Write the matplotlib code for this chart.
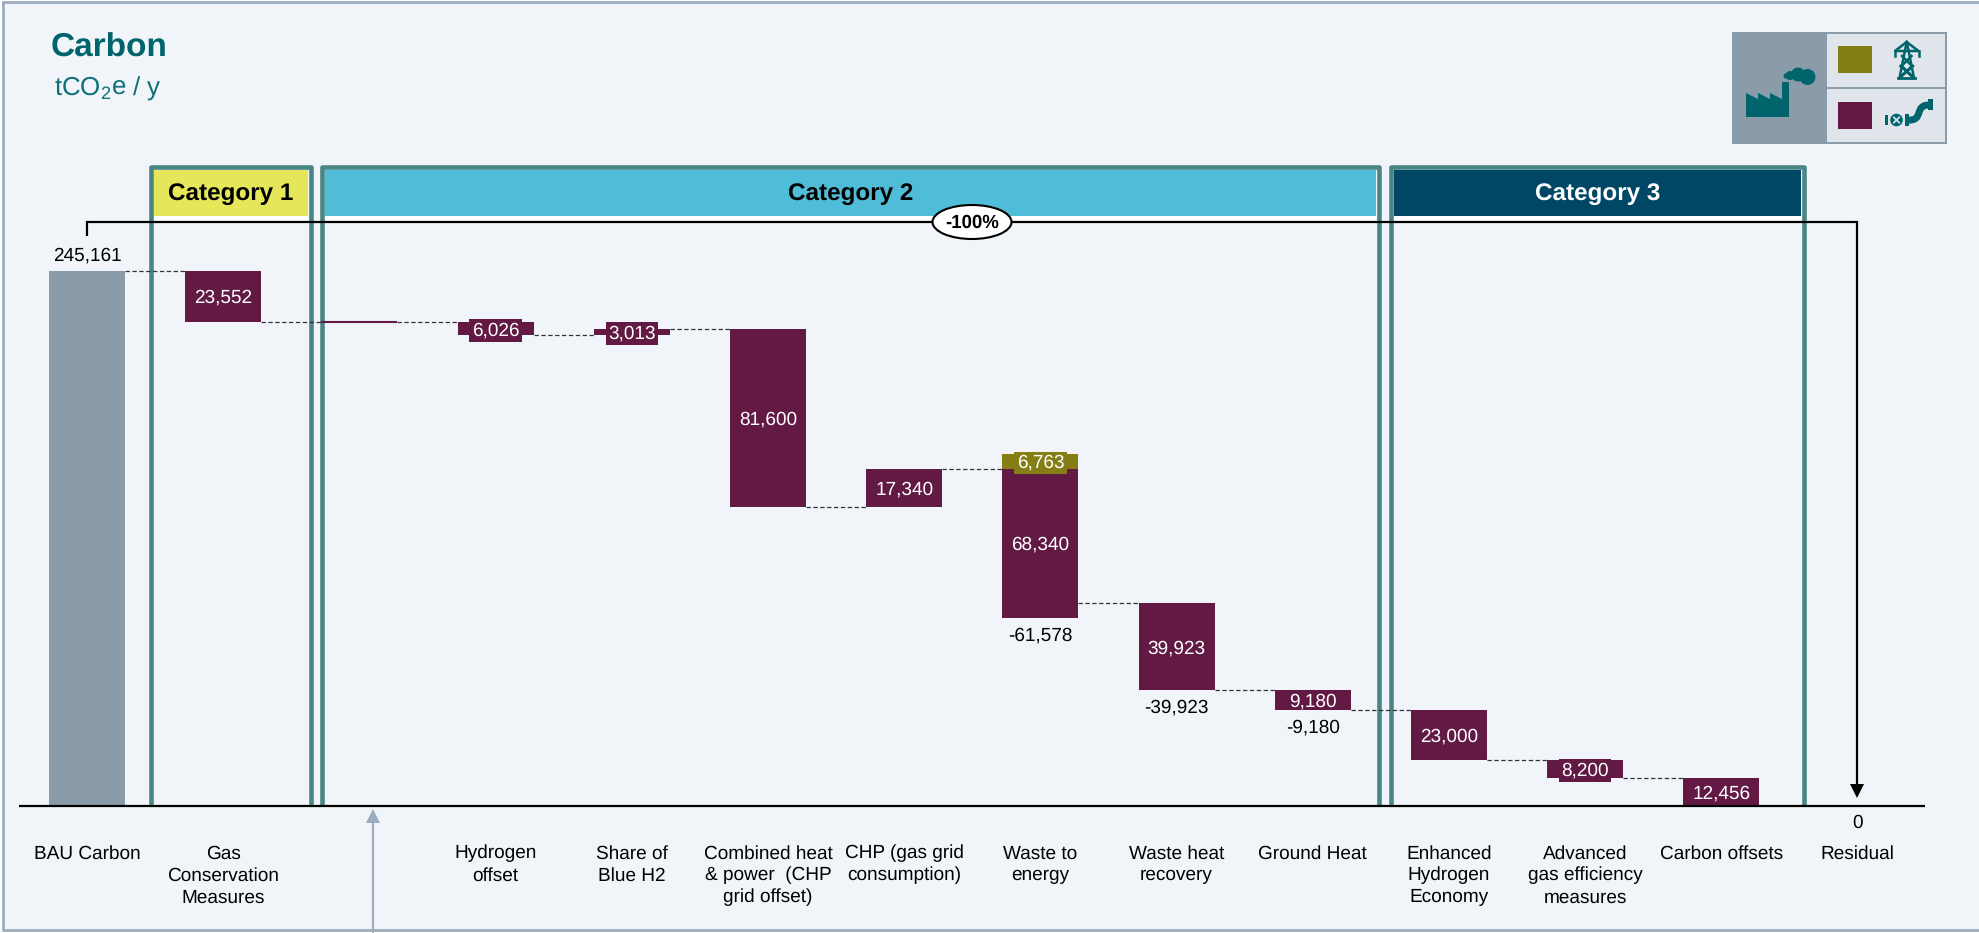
"""Carbon abatement waterfall."""

import matplotlib
matplotlib.use("Agg")
import matplotlib.pyplot as plt
from matplotlib.patches import Rectangle, Polygon, Circle, Ellipse, PathPatch
from matplotlib.path import Path
from matplotlib.lines import Line2D
from matplotlib.transforms import Affine2D

plt.rcParams["font.family"] = ["Liberation Sans", "DejaVu Sans"]
plt.rcParams["mathtext.fontset"] = "custom"
plt.rcParams["mathtext.rm"] = "Liberation Sans"
plt.rcParams["mathtext.default"] = "regular"
plt.rcParams["text.hinting"] = "no_hinting"

# ── Data ──────────────────────────────────────────────────────
labels = [
    "BAU Carbon", "Gas\nConservation\nMeasures", "", "Hydrogen\noffset",
    "Share of\nBlue H2", "Combined heat\n& power  (CHP\ngrid offset)", "CHP (gas grid\nconsumption)",
    "Waste to\nenergy", "Waste heat\nrecovery", "Ground Heat", "Enhanced\nHydrogen\nEconomy",
    "Advanced\ngas efficiency\nmeasures", "Carbon offsets", "Residual",
]
bau_value = 245161
gas_steps = [-23552, 0, -6026, 3013, -81600, 17340, -68340, -39923, -9180, -23000, -8200, -12456]
grid_steps = [0, 0, 0, 0, 0, 0, 6763, 0, 0, 0, 0, 0]
net_labels = {7: "-61,578", 8: "-39,923", 9: "-9,180"}
residual_value = 0
total_change = "-100%"
categories = ["Category 1", "Category 2", "Category 3"]

# ── Colours ───────────────────────────────────────────────────
BG = "#F1F5F9"
FRAME = "#9AAEBF"
GREY = "#8A9BAA"
PURPLE = "#621A45"
OLIVE = "#857E14"
TEAL = "#00646C"
BOX = "#4A8585"
CAT_COLORS = ["#E6E65A", "#50BDD8", "#004766"]
CAT_TEXT = ["black", "black", "white"]
FS = 13.7

fig = plt.figure(figsize=(19.79, 9.33), dpi=100, facecolor="white")
ax = fig.add_axes([0, 0, 1, 1])
ax.axis("off")

# x: category index, y: tCO2e. Scale
PITCH = 136.2
X0 = 87.0
BASE = 805.5
PER_UNIT = 534.5 / bau_value
ax.set_xlim(-X0 / PITCH, (1979 - X0) / PITCH)
ax.set_ylim((BASE - 933) / PER_UNIT, BASE / PER_UNIT)
BAR_W = 76 / PITCH

# pixel coordinates of the image, y down, for the decoration
px = Affine2D().scale(1, -1).translate(0, 933)


def rect(x0, y0, x1, y1, color, z=1, **kw):
    ax.add_patch(Rectangle((x0, y0), x1 - x0, y1 - y0, fc=color, ec="none",
                           transform=px, zorder=z, clip_on=False, **kw))


def line(xs, ys, color="black", lw=1.5, z=6, **kw):
    ax.add_line(Line2D(xs, ys, color=color, lw=lw, transform=px, zorder=z,
                       clip_on=False, **kw))


def bar_label(i, value, text, color=None):
    # white value inside a bar; short bars get a patch behind the text
    box = dict(boxstyle="square,pad=0.13", fc=color, ec="none") if color else None
    ax.annotate(text, (i, value), xytext=(0, -1), textcoords="offset points", ha="center",
                va="center", fontsize=FS, color="white", zorder=6, bbox=box)


# Frame
rect(0, 0, 1979, 933, "white", z=0)
rect(2, 1, 1979, 930, BG, z=0.1)
line([3, 3], [1, 930], FRAME, 2, z=0.2, solid_capstyle="butt")
line([2, 1979], [1.5, 1.5], FRAME, 2, z=0.2, solid_capstyle="butt")
line([2, 1979], [929.5, 929.5], FRAME, 2, z=0.2, solid_capstyle="butt")

# Category boxes
boxes = [(149, 313), (320, 1381), (1389, 1806)]
for (x0, x1), name, col, tcol in zip(boxes, categories, CAT_COLORS, CAT_TEXT):
    rect(x0 + 5, 216, x1 - 5, 222, "white", z=1)
    rect(x0 + 5, 170, x1 - 5, 216, col, z=1)
    ax.add_patch(Polygon([(x0 + 2.25, BASE), (x0 + 2.25, 167.2), (x1 - 2.25, 167.2), (x1 - 2.25, BASE)],
                         closed=False, fill=False, ec=BOX, lw=3.3, joinstyle="round",
                         transform=px, zorder=2, clip_on=False))
    ax.text((x0 + x1) / 2, 194, name, transform=px, ha="center", va="center",
            fontsize=17.5, fontweight="bold", color=tcol, zorder=3)

# Waterfall
ax.bar(0, bau_value, width=BAR_W, color=GREY, zorder=3)
ax.annotate(f"{bau_value:,}", (0, bau_value), xytext=(0, 11), textcoords="offset points",
            ha="center", va="center", fontsize=FS, color="black", zorder=7)

level = bau_value
for i, (gas, grid) in enumerate(zip(gas_steps, grid_steps), start=1):
    # dashed connector from the previous bar
    ax.plot([i - 1 + BAR_W / 2, i - BAR_W / 2], [level, level], color="#333333", lw=0.9,
            ls=(0, (3.5, 2)), zorder=4)
    if gas == 0:
        ax.plot([i - BAR_W / 2, i + BAR_W / 2], [level, level], color=PURPLE, lw=1.5,
                solid_capstyle="butt", zorder=5)
    else:
        ax.bar(i, abs(gas), bottom=min(level, level + gas), width=BAR_W, color=PURPLE, zorder=5)
        bar_label(i, level + gas / 2, f"{abs(gas):,}", PURPLE if abs(gas) < 9000 else None)
    if grid:
        ax.bar(i, grid, bottom=level, width=BAR_W, color=OLIVE, zorder=5)
        bar_label(i, level + grid / 2, f"{grid:,}", OLIVE)
    if i in net_labels:
        ax.annotate(net_labels[i], (i, level + gas), xytext=(0, -12.6), textcoords="offset points",
                    ha="center", va="center", fontsize=FS, color="black", zorder=6)
    level = level + gas + grid

# Axis line and labels
ax.plot([(19 - X0) / PITCH, (1925 - X0) / PITCH], [0, 0], color="black", lw=1.6, zorder=8,
        solid_capstyle="butt")
for i, name in enumerate(labels):
    ax.annotate(name, (i, 0), xytext=(0, -28.2), textcoords="offset points", ha="center", va="top",
                fontsize=FS, linespacing=1.31, color="black", zorder=6)
ax.annotate(f"{residual_value}", (13, 0), xytext=(0, -12.6), textcoords="offset points",
            ha="center", va="center", fontsize=FS, color="black", zorder=6)

# Total bracket with the arrow to the residual
line([87, 87, 1857, 1857], [236, 222, 222, 786], "black", 1.6, solid_joinstyle="miter", solid_capstyle="butt")
ax.add_patch(Polygon([(1850, 784), (1864, 784), (1857, 798)], fc="black", ec="none", transform=px, zorder=6))
ax.add_patch(Ellipse((972, 222), 79, 34, fc="white", ec="black", lw=1.5, transform=px, zorder=7))
ax.text(972, 223, total_change, transform=px, ha="center", va="center", fontsize=13.4,
        fontweight="bold", color="black", zorder=8)

# Grey callout arrow under the axis
line([373, 373], [820, 933], FRAME, 1.5, z=6)
ax.add_patch(Polygon([(366, 823), (380, 823), (373, 809)], fc=FRAME, ec="none", transform=px, zorder=6))

# Title
ax.text(50.5, 56.5, "Carbon", transform=px, fontsize=24, fontweight="bold", color=TEAL, va="baseline")
ax.text(54, 96, r"tCO$_2$e / y", transform=px, fontsize=18.6, color="#0E7078", va="baseline")

# Legend with icons
rect(1732, 32, 1947, 144, GREY, z=1)
rect(1826, 33, 1946, 143, "#DFE5EB", z=1.1)
line([1826, 1826, 1946, 1946, 1826], [33, 143, 143, 33, 33], GREY, 1.4, z=1.2)
line([1826, 1946], [88, 88], GREY, 1.4, z=1.2)
rect(1838, 46, 1872, 73, OLIVE, z=2)
rect(1838, 102, 1872, 129, PURPLE, z=2)

# factory
ax.add_patch(Polygon([(1746, 117), (1789, 117), (1789, 82), (1782, 82), (1782, 99), (1770, 93), (1770, 99),
                      (1758, 93), (1758, 99), (1746, 93)], fc=TEAL, ec="none", transform=px, zorder=3))
for cx, cy, r in [(1807.5, 77, 8), (1798, 74.5, 7), (1790, 75.5, 4.5), (1786, 76, 2.5)]:
    ax.add_patch(Circle((cx, cy), r, fc=TEAL, ec="none", transform=px, zorder=3))

# pylon
py_lw = 1.8
line([1898, 1915], [77.5, 77.5], TEAL, 2, z=3)
line([1899.5, 1906.5], [78, 43], TEAL, py_lw, z=3)
line([1914, 1907], [78, 43], TEAL, py_lw, z=3)
line([1906.7, 1895, 1918.5, 1906.7], [42, 51, 51, 42], TEAL, py_lw, z=3)
line([1895, 1895], [51, 56], TEAL, py_lw, z=3)
line([1918.5, 1918.5], [51, 56], TEAL, py_lw, z=3)
line([1902, 1912, 1900.5, 1913], [56, 66, 77, 66], TEAL, py_lw, z=3)
line([1911.5, 1901.5, 1913, 1900.5], [56, 66, 77, 66], TEAL, py_lw, z=3)

# valve and pipe
ax.add_patch(Circle((1896.5, 120), 6.3, fc=TEAL, ec="none", transform=px, zorder=3))
line([1893.8, 1899.2], [117.3, 122.7], "#DFE5EB", 1.2, z=4)
line([1893.8, 1899.2], [122.7, 117.3], "#DFE5EB", 1.2, z=4)
rect(1885, 115, 1888, 125, TEAL, z=3)
pipe = Path([(1906, 120), (1926, 122), (1912, 104), (1931, 105)],
            [Path.MOVETO, Path.CURVE4, Path.CURVE4, Path.CURVE4])
ax.add_patch(PathPatch(pipe, fc="none", ec=TEAL, lw=5, transform=px, zorder=3))
rect(1905, 114, 1909, 126, TEAL, z=3)
rect(1928, 99, 1933, 110, TEAL, z=3)

fig.savefig("out.png", dpi=100, facecolor="white")
plt.close(fig)
